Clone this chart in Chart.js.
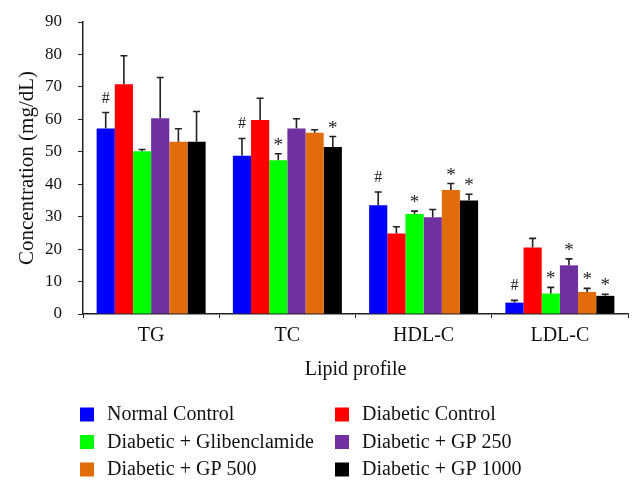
<!DOCTYPE html>
<html>
<head>
<meta charset="utf-8">
<script src="https://cdn.jsdelivr.net/npm/chart.js@4/dist/chart.umd.min.js"></script>
<style>
html,body{margin:0;padding:0;background:#fff;}
#wrap{width:643px;height:491px;position:relative;}
</style>
</head>
<body>
<div id="wrap"><canvas id="c" width="643" height="491"></canvas></div>
<script>
const categories = ['TG', 'TC', 'HDL-C', 'LDL-C'];
const seriesNames = ['Normal Control', 'Diabetic Control', 'Diabetic + Glibenclamide', 'Diabetic + GP 250', 'Diabetic + GP 500', 'Diabetic + GP 1000'];
const normalControl = [57.2, 48.8, 33.5, 3.5];
const diabeticControl = [70.8, 59.8, 24.8, 20.5];
const diabeticGlib = [50.2, 47.4, 30.8, 6.3];
const diabeticGP250 = [60.3, 57.2, 29.8, 15.0];
const diabeticGP500 = [53.1, 55.9, 38.2, 6.8];
const diabeticGP1000 = [53.1, 51.5, 35.0, 5.6];
const normalControlErr = [4.9, 5.3, 4.1, 0.7];
const diabeticControlErr = [8.8, 6.7, 2.1, 2.8];
const diabeticGlibErr = [0.5, 2.0, 0.9, 1.9];
const diabeticGP250Err = [12.6, 3.0, 2.4, 2.0];
const diabeticGP500Err = [4.0, 0.9, 2.0, 1.1];
const diabeticGP1000Err = [9.3, 3.2, 1.9, 0.5];
const normalControlMarks = ['#', '#', '#', '#'];
const diabeticControlMarks = ['', '', '', ''];
const diabeticGlibMarks = ['', '*', '*', '*'];
const diabeticGP250Marks = ['', '', '', '*'];
const diabeticGP500Marks = ['', '', '*', '*'];
const diabeticGP1000Marks = ['', '*', '*', '*'];
const yTicks = [0, 10, 20, 30, 40, 50, 60, 70, 80, 90];

const colors = ['#0000FF', '#FF0000', '#00FF00', '#7030A0', '#E36C0A', '#000000'];
const values = [normalControl, diabeticControl, diabeticGlib, diabeticGP250, diabeticGP500, diabeticGP1000];
const errs = [normalControlErr, diabeticControlErr, diabeticGlibErr, diabeticGP250Err, diabeticGP500Err, diabeticGP1000Err];
const marks = [normalControlMarks, diabeticControlMarks, diabeticGlibMarks, diabeticGP250Marks, diabeticGP500Marks, diabeticGP1000Marks];

const FONT = "'Liberation Serif', 'Times New Roman', serif";

const errorPlugin = {
  id: 'errorBars',
  afterDatasetsDraw(chart) {
    const ctx = chart.ctx;
    const y = chart.scales.y;
    ctx.save();
    chart.data.datasets.forEach((ds, i) => {
      const meta = chart.getDatasetMeta(i);
      meta.data.forEach((bar, j) => {
        const v = ds.data[j];
        const top = y.getPixelForValue(v + ds.errors[j]);
        ctx.strokeStyle = '#222';
        ctx.lineWidth = 1.6;
        ctx.beginPath();
        ctx.moveTo(bar.x, bar.y);
        ctx.lineTo(bar.x, top);
        ctx.moveTo(bar.x - 3.5, top);
        ctx.lineTo(bar.x + 3.5, top);
        ctx.stroke();
        const m = ds.marks[j];
        if (m) {
          ctx.fillStyle = '#222';
          ctx.textAlign = 'center';
          ctx.textBaseline = 'alphabetic';
          if (m === '#') {
            ctx.font = '16px ' + FONT;
            ctx.fillText(m, bar.x, top - 10);
          } else {
            ctx.font = '19px ' + FONT;
            ctx.fillText(m, bar.x, top - 3);
          }
        }
      });
    });
    ctx.restore();
  }
};

const legendPlugin = {
  id: 'customLegend',
  afterDraw(chart) {
    const ctx = chart.ctx;
    ctx.save();
    const colX = [80, 335];
    const rowY = [414.5, 442, 469.5];
    chart.data.datasets.forEach((ds, i) => {
      const cx = colX[i % 2];
      const cy = rowY[Math.floor(i / 2)];
      ctx.fillStyle = ds.backgroundColor;
      ctx.fillRect(cx, cy - 7, 14, 14);
      ctx.fillStyle = '#111';
      ctx.font = '20px ' + FONT;
      ctx.textAlign = 'left';
      ctx.textBaseline = 'alphabetic';
      ctx.fillText(ds.label, cx + 27, cy + 5.5);
    });
    ctx.restore();
  }
};

new Chart(document.getElementById('c'), {
  type: 'bar',
  data: {
    labels: categories,
    datasets: seriesNames.map((name, i) => ({
      label: name,
      data: values[i],
      errors: errs[i],
      marks: marks[i],
      backgroundColor: colors[i],
      borderWidth: 0,
      categoryPercentage: 0.8,
      barPercentage: 1.0
    }))
  },
  options: {
    responsive: false,
    animation: false,
    devicePixelRatio: 1,
    layout: { padding: { left: 8, right: 15, top: 22, bottom: 109 } },
    plugins: {
      legend: { display: false },
      tooltip: { enabled: false }
    },
    scales: {
      x: {
        grid: { display: true, drawOnChartArea: false, drawTicks: true, tickLength: 4, color: '#222', offset: true },
        border: { display: true, color: '#222', width: 1.5 },
        ticks: { color: '#111', font: { family: FONT, size: 20 }, padding: 6 },
        title: { display: true, text: 'Lipid profile', color: '#111', font: { family: FONT, size: 20 }, padding: { top: 4, bottom: 0 } }
      },
      y: {
        min: 0, max: 90,
        afterBuildTicks(scale) { scale.ticks = yTicks.map(v => ({ value: v })); },
        afterFit(scale) { scale.width = 75; scale.paddingTop = 0; },
        grid: { display: true, drawOnChartArea: false, drawTicks: true, tickLength: 5, color: '#222' },
        border: { display: true, color: '#222', width: 1.5 },
        ticks: { color: '#111', font: { family: FONT, size: 17 }, padding: 16 },
        title: { display: true, text: 'Concentration (mg/dL)', color: '#111', font: { family: FONT, size: 21 }, padding: { top: 7, bottom: 5 } }
      }
    }
  },
  plugins: [errorPlugin, legendPlugin]
});
</script>
</body>
</html>
